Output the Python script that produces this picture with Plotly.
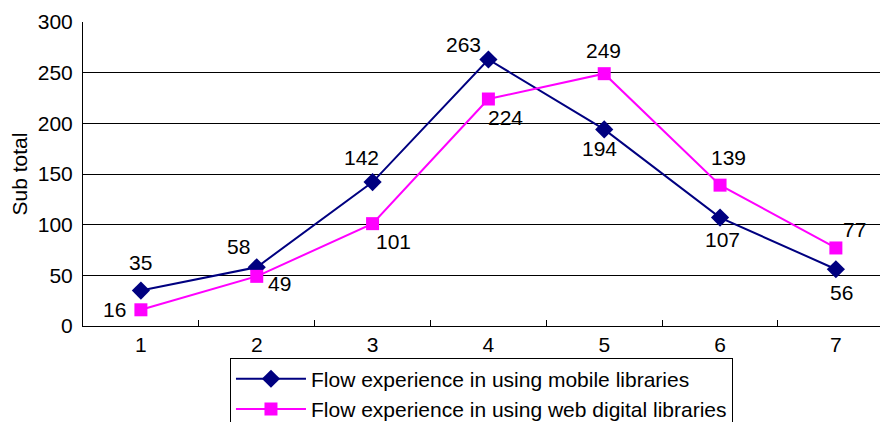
import plotly.graph_objects as go

categories = ["1", "2", "3", "4", "5", "6", "7"]
mobile = [35, 58, 142, 263, 194, 107, 56]
web = [16, 49, 101, 224, 249, 139, 77]
series_names = ["Flow experience in using mobile libraries",
                "Flow experience in using web digital libraries"]
y_ticks = [0, 50, 100, 150, 200, 250, 300]

# label offsets (pixels) for each data label
mobile_off = [(0, 28), (-18, 21), (-11, 25), (-25, 15), (-5, -19), (2, -22), (6, -23)]
web_off = [(-26, 0), (23, -7), (21, -18), (17, -18), (-1, 23), (8, 28), (19, 18)]

FONT = "Liberation Sans, Arial, sans-serif"
FS = 21
fig = go.Figure()
fig.add_trace(go.Scatter(x=categories, y=mobile, name=series_names[0], mode="lines+markers",
                         line=dict(color="#000080", width=2),
                         marker=dict(symbol="diamond", size=14, color="#000080")))
fig.add_trace(go.Scatter(x=categories, y=web, name=series_names[1], mode="lines+markers",
                         line=dict(color="#FF00FF", width=2),
                         marker=dict(symbol="square", size=13, color="#FF00FF")))

annotations = []
for vals, offs in ((mobile, mobile_off), (web, web_off)):
    for i, (v, (dx, dy)) in enumerate(zip(vals, offs)):
        annotations.append(dict(x=i, y=v, xref="x", yref="y", text=str(v), showarrow=False,
                                xshift=dx, yshift=dy,
                                font=dict(size=FS, color="black", family=FONT)))

fig.update_layout(
    width=888, height=422,
    margin=dict(l=75, r=8, t=14, b=104, autoexpand=False),
    paper_bgcolor="white", plot_bgcolor="white",
    font=dict(family=FONT, size=FS, color="black"),
    showlegend=True,
    legend=dict(x=0.495, xanchor="center", y=-0.104, yanchor="top",
                bordercolor="black", borderwidth=1, bgcolor="white",
                font=dict(size=FS), tracegroupgap=0, itemwidth=70),
    annotations=annotations,
)
fig.update_xaxes(type="category", range=[-0.5, 6.45], tickson="boundaries",
                 ticks="inside", ticklen=6, tickcolor="black", automargin=False,
                 showline=True, linecolor="black", linewidth=1,
                 showgrid=False, tickfont=dict(size=FS))
fig.update_yaxes(range=[0, 300], tickvals=y_ticks, showline=True, linecolor="black",
                 linewidth=1, showgrid=True, gridcolor="black", gridwidth=1,
                 zeroline=False, ticks="", ticklabelstandoff=5, automargin=False,
                 title=dict(text="Sub total", font=dict(size=FS), standoff=10),
                 tickfont=dict(size=FS))

fig.write_html("out.html")
